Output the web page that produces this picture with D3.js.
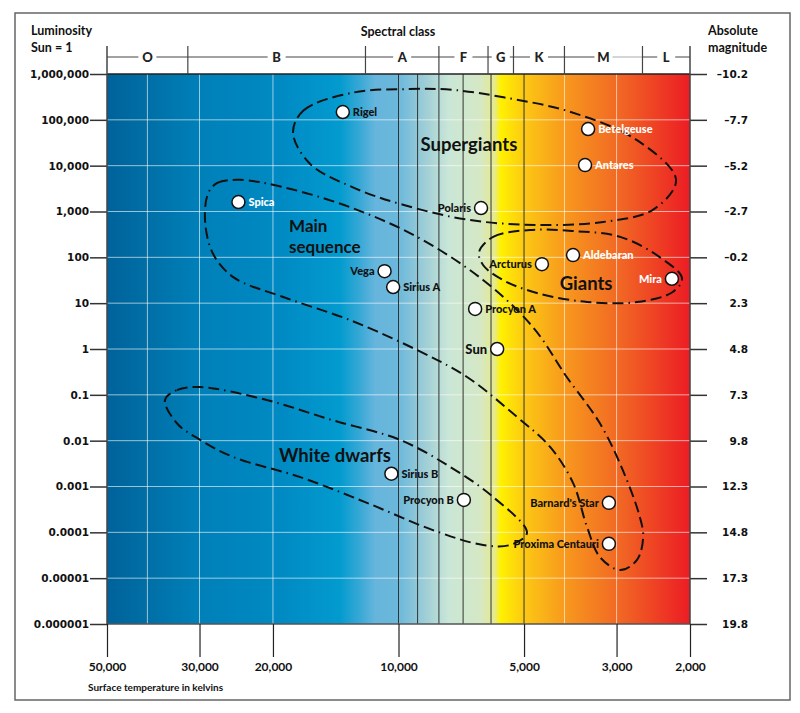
<!DOCTYPE html>
<html>
<head>
<meta charset="utf-8">
<script src="https://cdn.jsdelivr.net/npm/d3@7"></script>
<style>
  body { margin: 0; background: #fff; }
  svg text { font-family: Lato, "Open Sans", sans-serif; font-weight: 700; }
  .tick text { font-family: "DejaVu Sans", Verdana, sans-serif; font-weight: 700; }
</style>
</head>
<body>
<div id="chart"></div>
<script>
// luminosity axis (Sun = 1) and matching absolute magnitude
const lumTicks = [1e6, 1e5, 1e4, 1e3, 100, 10, 1, 0.1, 0.01, 0.001, 1e-4, 1e-5, 1e-6];
const lumLabels = ["1,000,000", "100,000", "10,000", "1,000", "100", "10", "1", "0.1", "0.01", "0.001", "0.0001", "0.00001", "0.000001"];
const magLabels = ["\u201310.2", "\u20137.7", "\u20135.2", "\u20132.7", "\u20130.2", "2.3", "4.8", "7.3", "9.8", "12.3", "14.8", "17.3", "19.8"];

// temperature axis (kelvins)
const tempTicks = [50000, 30000, 20000, 10000, 5000, 3000, 2000];
const tempLabels = ["50,000", "30,000", "20,000", "10,000", "5,000", "3,000", "2,000"];
const lightGrid = [40000, 30000, 20000, 4000, 3000];
const darkGrid = [10000, 9000, 8000, 7000, 6000, 5000];

// spectral classes
const classNames = ["O", "B", "A", "F", "G", "K", "M", "L"];
const classBounds = [50000, 32000, 12000, 8000, 6100, 5300, 4000, 2600, 2000];

// stars: name, temperature, luminosity, label side, label colour
const starNames = ["Rigel", "Spica", "Betelgeuse", "Antares", "Polaris", "Aldebaran", "Arcturus", "Mira", "Vega", "Sirius A", "Procyon A", "Sun", "Sirius B", "Procyon B", "Barnard's Star", "Proxima Centauri"];
const starTemp = [13600, 24200, 3510, 3570, 6340, 3815, 4530, 2210, 10800, 10300, 6550, 5800, 10400, 6970, 3130, 3130];
const starLum = [1.48e5, 1610, 6.3e4, 1.03e4, 1190, 112, 71, 34, 50, 22.5, 7.5, 1, 0.0019, 0.00051, 0.00044, 0.000056];
const starSide = ["r", "r", "r", "r", "l", "r", "l", "l", "l", "r", "r", "l", "r", "l", "l", "l"];
const starWhite = [false, true, true, true, false, true, false, true, false, false, false, false, false, false, false, false];

// region outlines as [temperature, luminosity]
const superGiants = [[17900, 5.2e4], [16900, 1.6e5], [12900, 3.9e5], [9400, 4.7e5], [7400, 4.5e5], [5600, 3.1e5], [3880, 1.5e5], [2680, 3.6e4], [2160, 4.9e3], [2450, 1.1e3], [3230, 590], [4660, 510], [6740, 650], [9750, 1400], [12900, 3400], [16300, 1.1e4]];
const giants = [[6410, 130], [5930, 280], [4840, 395], [3815, 375], [2940, 280], [2360, 100], [2090, 35], [2200, 17.5], [2680, 10.6], [3530, 10.6], [4660, 16.7], [5620, 32], [6270, 68]];
const mainSeq = [[28600, 2500], [27200, 4200], [24000, 4900], [18900, 3400], [13100, 1250], [9030, 280], [6270, 32], [4760, 3.0], [3950, 0.245], [3290, 0.024], [2900, 0.0023], [2640, 0.00022], [2590, 7.9e-5], [2680, 2.5e-5], [2940, 1.5e-5], [3290, 2.9e-5], [3530, 1.3e-4], [3815, 0.0012], [4330, 0.0073], [5200, 0.033], [6850, 0.245], [9030, 0.95], [13100, 4.3], [18900, 13.6], [24900, 37], [27900, 124], [29100, 650]];
const whiteDwarfs = [[36300, 0.077], [34000, 0.127], [29900, 0.148], [20700, 0.077], [14400, 0.028], [9920, 0.0104], [7530, 0.0027], [5930, 0.00059], [4920, 9.7e-5], [5400, 5.3e-5], [6270, 5.3e-5], [8270, 1.12e-4], [11900, 4.4e-4], [17200, 0.0016], [24900, 0.0044], [29900, 0.0104], [34000, 0.024]];

const W = 800, H = 713;
const margin = {left: 107, right: 110, top: 74, bottom: 89};

const svg = d3.select("#chart").append("svg")
  .attr("width", W)
  .attr("height", H);

let x = d3.scaleLog().domain([50000, 2000]).range([margin.left, W - margin.right]);
let y = d3.scaleLog().domain([1e6, 1e-6]).range([margin.top, H - margin.bottom]);

// outer frame
svg.append("rect")
  .attr("x", 15).attr("y", 13).attr("width", 775).attr("height", 687)
  .attr("fill", "none").attr("stroke", "#666").attr("stroke-width", 1.5);

// colour strip
let grad = svg.append("defs").append("linearGradient")
  .attr("id", "tempGrad").attr("x1", "0%").attr("x2", "100%");
const stops = [
  [0, "#00629a"], [0.07, "#006fa6"], [0.16, "#0080b9"], [0.3, "#008ac3"],
  [0.4, "#039bcf"], [0.435, "#3aa9d6"], [0.46, "#66b5dc"], [0.5, "#6cb8db"],
  [0.55, "#a3d0d6"], [0.585, "#c9e6d7"], [0.64, "#d5e8c5"], [0.665, "#e6ea8c"],
  [0.675, "#fff100"], [0.72, "#fcc514"], [0.79, "#f7961e"], [0.88, "#f16724"], [1, "#ec1c24"]
];
grad.selectAll("stop").data(stops).enter().append("stop")
  .attr("offset", function(d) { return d[0]; })
  .attr("stop-color", function(d) { return d[1]; });

svg.append("rect")
  .attr("x", x(50000)).attr("y", y(1e6))
  .attr("width", x(2000) - x(50000)).attr("height", y(1e-6) - y(1e6))
  .attr("fill", "url(#tempGrad)");

// grid
svg.append("g").selectAll("line").data(lumTicks.slice(1, -1)).enter().append("line")
  .attr("x1", x(50000)).attr("x2", x(2000))
  .attr("y1", function(d) { return y(d); }).attr("y2", function(d) { return y(d); })
  .attr("stroke", "#fff").attr("stroke-opacity", 0.6).attr("stroke-width", 1);

svg.append("g").selectAll("line").data(lightGrid).enter().append("line")
  .attr("x1", function(d) { return x(d); }).attr("x2", function(d) { return x(d); })
  .attr("y1", y(1e6)).attr("y2", y(1e-6))
  .attr("stroke", "#fff").attr("stroke-opacity", 0.6).attr("stroke-width", 1);

svg.append("g").selectAll("line").data(darkGrid).enter().append("line")
  .attr("x1", function(d) { return x(d); }).attr("x2", function(d) { return x(d); })
  .attr("y1", y(1e6)).attr("y2", y(1e-6))
  .attr("stroke", "#333").attr("stroke-width", 1);

// plot edges
svg.append("line").attr("x1", x(50000)).attr("x2", x(2000)).attr("y1", y(1e6)).attr("y2", y(1e6))
  .attr("stroke", "#222").attr("stroke-width", 1.5);
svg.append("line").attr("x1", x(50000)).attr("x2", x(2000)).attr("y1", y(1e-6)).attr("y2", y(1e-6))
  .attr("stroke", "#555").attr("stroke-width", 1.5);

// left axis
let leftAxis = svg.append("g")
  .attr("transform", "translate(" + x(50000) + ",0)")
  .call(d3.axisLeft(y).tickValues(lumTicks).tickSize(17).tickPadding(1)
    .tickFormat(function(d, i) { return lumLabels[i]; }));
leftAxis.select(".domain").remove();
leftAxis.selectAll(".tick line").attr("stroke", "#333").attr("stroke-width", 1.5);
leftAxis.selectAll(".tick text").style("font-size", "10.5px").attr("fill", "#111");

// right axis
let rightAxis = svg.append("g")
  .attr("transform", "translate(" + x(2000) + ",0)")
  .call(d3.axisRight(y).tickValues(lumTicks).tickSize(17).tickPadding(0)
    .tickFormat(function(d, i) { return magLabels[i]; }));
rightAxis.select(".domain").remove();
rightAxis.selectAll(".tick line").attr("stroke", "#333").attr("stroke-width", 1.5);
rightAxis.selectAll(".tick text").style("font-size", "10.5px").attr("fill", "#111")
  .attr("text-anchor", "end").attr("x", 58);

// bottom axis
let bottomAxis = svg.append("g")
  .attr("transform", "translate(0," + y(1e-6) + ")")
  .call(d3.axisBottom(x).tickValues(tempTicks).tickSize(33).tickPadding(5)
    .tickFormat(function(d, i) { return tempLabels[i]; }));
bottomAxis.select(".domain").remove();
bottomAxis.selectAll(".tick line").attr("stroke", "#222").attr("stroke-width", 1.2);
bottomAxis.selectAll(".tick text")
  .style("font-family", "Lato, sans-serif").style("font-size", "12px").attr("fill", "#111");

// edge verticals continuing into header
[50000, 2000].forEach(function(t) {
  svg.append("line").attr("x1", x(t)).attr("x2", x(t)).attr("y1", 46).attr("y2", y(1e-6))
    .attr("stroke", "#444").attr("stroke-width", 1.5);
});

// spectral class header
let header = svg.append("g");
const rowY = 57;
classNames.forEach(function(c, i) {
  let x0 = x(classBounds[i]), x1 = x(classBounds[i + 1]);
  let mid = (x0 + x1) / 2;
  header.append("line").attr("x1", x0).attr("x2", mid - 9).attr("y1", rowY).attr("y2", rowY)
    .attr("stroke", "#444").attr("stroke-width", 1);
  header.append("line").attr("x1", mid + 9).attr("x2", x1).attr("y1", rowY).attr("y2", rowY)
    .attr("stroke", c === "M" ? "#aaa" : "#444").attr("stroke-width", 1);
  header.append("text").attr("x", mid).attr("y", rowY + 5)
    .attr("text-anchor", "middle").style("font-size", "13px").style("font-weight", 900)
    .attr("fill", "#222").text(c);
});
header.selectAll(".bound").data(classBounds.slice(1, -1)).enter().append("line")
  .attr("x1", function(d) { return x(d); }).attr("x2", function(d) { return x(d); })
  .attr("y1", 46).attr("y2", y(1e6))
  .attr("stroke", "#444").attr("stroke-width", 1.2);

// titles
let titles = svg.append("g").style("font-size", "12.5px").style("font-weight", 900).attr("fill", "#111");
titles.append("text").attr("x", 31).attr("y", 35).text("Luminosity");
titles.append("text").attr("x", 31).attr("y", 52).text("Sun = 1");
titles.append("text").attr("x", 398).attr("y", 36).attr("text-anchor", "middle").text("Spectral class");
titles.append("text").attr("x", 708).attr("y", 35).text("Absolute");
titles.append("text").attr("x", 708).attr("y", 52).text("magnitude");
svg.append("text").attr("x", 88).attr("y", 691).style("font-size", "10px").attr("fill", "#111").text("Surface temperature in kelvins");

// region outlines
let outline = d3.line()
  .curve(d3.curveCatmullRomClosed)
  .x(function(d) { return x(d[0]); })
  .y(function(d) { return y(d[1]); });

svg.append("g").selectAll("path").data([superGiants, giants, mainSeq, whiteDwarfs]).enter().append("path")
  .attr("d", outline)
  .attr("fill", "none")
  .attr("stroke", "#111")
  .attr("stroke-width", 2)
  .attr("stroke-dasharray", "11,5,11,5,11,5,1.5,5");

// region labels
let regionLbl = svg.append("g").style("font-size", "18.5px").style("font-weight", 900).attr("fill", "#111");
regionLbl.append("text").attr("x", x(6780)).attr("y", y(2.1e4)).attr("text-anchor", "middle").text("Supergiants");
regionLbl.append("text").attr("x", x(18300)).attr("y", y(360)).style("font-size", "17px").text("Main");
regionLbl.append("text").attr("x", x(18300)).attr("y", y(122)).style("font-size", "17px").text("sequence");
regionLbl.append("text").attr("x", x(3550)).attr("y", y(19.4)).attr("text-anchor", "middle").text("Giants");
regionLbl.append("text").attr("x", x(14200)).attr("y", y(0.0034)).attr("text-anchor", "middle").text("White dwarfs");

// stars
let stars = svg.append("g").selectAll("g").data(starNames).enter().append("g")
  .attr("transform", function(d, i) { return "translate(" + x(starTemp[i]) + "," + y(starLum[i]) + ")"; });

stars.append("circle")
  .attr("r", 6.5)
  .attr("fill", "#fff")
  .attr("stroke", "#111")
  .attr("stroke-width", 1.5);

stars.append("text")
  .attr("x", function(d, i) { return starSide[i] === "r" ? 10 : -10; })
  .attr("y", function(d) { return d === "Sun" ? 4.8 : 4; })
  .attr("text-anchor", function(d, i) { return starSide[i] === "r" ? "start" : "end"; })
  .style("font-size", function(d) { return d === "Sun" ? "13px" : "11px"; })
  .style("font-weight", 900)
  .attr("fill", function(d, i) { return starWhite[i] ? "#fff" : "#111"; })
  .text(function(d) { return d; });
</script>
</body>
</html>
